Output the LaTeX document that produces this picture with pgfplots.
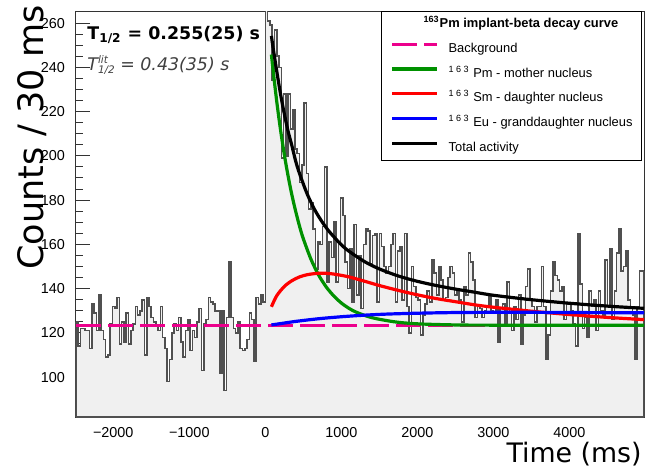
\documentclass[border=0pt]{standalone}
\usepackage{pgfplots}
\pgfplotsset{compat=1.18}
\usepackage{fontspec}
\setmainfont{Liberation Sans}
\newfontfamily\dejavu{DejaVu Sans}
\definecolor{histfill}{RGB}{240,240,240}
\definecolor{histline}{RGB}{80,80,80}
\definecolor{mgreen}{RGB}{0,145,0}

% implant-beta time histogram, 30 ms bins (left edge, counts)
\pgfplotstableread{
x y
-2490 125
-2460 114
-2430 122
-2400 122
-2370 121
-2340 121
-2310 113
-2280 133
-2250 129
-2220 121
-2190 137
-2160 121
-2130 117
-2100 109
-2070 110
-2040 124
-2010 132
-1980 131
-1950 136
-1920 115
-1890 125
-1860 116
-1830 129
-1800 115
-1770 121
-1740 124
-1710 132
-1680 128
-1650 130
-1620 135
-1590 110
-1560 136
-1530 132
-1500 127
-1470 125
-1440 123
-1410 121
-1380 132
-1350 118
-1320 113
-1290 98
-1260 108
-1230 120
-1200 124
-1170 121
-1140 127
-1110 116
-1080 109
-1050 121
-1020 126
-990 112
-960 121
-930 118
-900 125
-870 131
-840 103
-810 124
-780 126
-750 136
-720 134
-690 133
-660 130
-630 130
-600 102
-570 130
-540 94
-510 127
-480 152
-450 127
-420 122
-390 120
-360 125
-330 113
-300 112
-270 113
-240 117
-210 129
-180 126
-150 107
-120 136
-90 133
-60 137
-30 134
0 275
30 261
60 259
90 234
120 257
150 245
180 240
210 199
240 228
270 200
300 228
330 212
360 221
390 203
420 201
450 188
480 196
510 224
540 192
570 176
600 179
630 167
660 149
690 161
720 160
750 168
780 195
810 143
840 161
870 154
900 170
930 143
960 161
990 181
1020 173
1050 152
1080 140
1110 158
1140 134
1170 169
1200 137
1230 155
1260 131
1290 160
1320 167
1350 166
1380 151
1410 164
1440 165
1470 134
1500 165
1530 159
1560 150
1590 147
1620 150
1650 160
1680 165
1710 134
1740 157
1770 159
1800 135
1830 165
1860 132
1890 120
1920 150
1950 141
1980 136
2010 135
2040 119
2070 128
2100 133
2130 139
2160 134
2190 153
2220 147
2250 137
2280 150
2310 144
2340 135
2370 136
2400 145
2430 150
2460 147
2490 137
2520 140
2550 135
2580 125
2610 141
2640 137
2670 156
2700 152
2730 144
2760 127
2790 132
2820 131
2850 127
2880 130
2910 132
2940 137
2970 130
3000 129
3030 135
3060 116
3090 131
3120 133
3150 124
3180 143
3210 129
3240 121
3270 132
3300 126
3330 137
3360 115
3390 128
3420 141
3450 149
3480 135
3510 132
3540 125
3570 132
3600 132
3630 150
3660 132
3690 108
3720 119
3750 139
3780 152
3810 146
3840 144
3870 139
3900 141
3930 126
3960 133
3990 133
4020 130
4050 124
4080 114
4110 165
4140 142
4170 122
4200 127
4230 118
4260 139
4290 132
4320 135
4350 121
4380 139
4410 130
4440 127
4470 153
4500 132
4530 158
4560 126
4590 139
4620 156
4650 167
4680 148
4710 150
4740 157
4770 135
4800 131
4830 128
4860 108
4890 132
4920 148
4950 148
4980 148
}\histdata

\begin{document}
\begin{tikzpicture}
\begin{axis}[
  scale only axis, width=284pt, height=202.5pt,
  xmin=-2490, xmax=4980, ymin=82, ymax=265,
  axis line style={line width=0.5pt, black!80},
  tick align=inside, xtick pos=bottom, ytick pos=left,
  xtick={-2000,-1000,...,4000}, minor x tick num=4,
  xticklabels={−2000,−1000,0,1000,2000,3000,4000},
  ytick={100,120,...,260}, minor y tick num=3,
  yticklabels={100,120,140,160,180,200,220,240,260},
  major tick length=7pt, minor tick length=3.5pt,
  tick style={black!80, line width=0.5pt},
  xticklabel style={font=\fontsize{7.2}{8}\selectfont, inner sep=0.5pt, yshift=-4.6pt},
  yticklabel style={font=\fontsize{7.2}{8}\selectfont, xshift=-2pt},
  xlabel={Time (ms)},
  xlabel style={font=\dejavu\fontsize{13.4}{15}\selectfont, at={(axis description cs:0.9965,-0.06)}, anchor=north east, inner sep=0pt},
  ylabel={Counts / 30 ms},
  ylabel style={font=\dejavu\fontsize{17.5}{19}\selectfont, at={(axis description cs:-0.05,1.017)}, anchor=south east, inner sep=0pt},
  legend style={at={(axis description cs:0.9965,1.0025)}, anchor=north east,
    draw=black, line width=0.5pt, fill=white,
    font=\fontsize{6.45}{7.5}\selectfont,
    inner xsep=4.5pt, inner ysep=3pt, row sep=5.9pt,
    nodes={inner sep=0pt, text height=5pt, text depth=1.5pt},
    /tikz/every odd column/.append style={column sep=5pt}},
  legend cell align=left,
  legend image code/.code={\draw[#1] (0pt,2.3pt) -- (22.5pt,2.3pt);},
]
\addplot[const plot mark left, fill=histfill, draw=histline, line width=0.8pt, forget plot]
  table[x=x, y=y] {\histdata} \closedcycle;

\addlegendimage{empty legend}
\addlegendentry{\hspace*{-12.5pt}\textbf{\textsuperscript{163}Pm implant-beta decay curve}}

\addplot[magenta, line width=1.5pt, dash pattern=on 12.5pt off 3.5pt]
  coordinates {(-2490,123.5) (4980,123.5)};
\addlegendentry{Background}

\addplot[mgreen, line width=1.6pt, smooth] coordinates {
(80,245.8) (100,239.3) (150,224.6) (200,211.7) (250,200.5) (300,190.8)
(350,182.2) (400,174.8) (450,168.2) (500,162.5) (600,153.3) (700,146.2)
(800,140.8) (900,136.7) (1000,133.5) (1100,131.1) (1200,129.3) (1400,126.9)
(1700,125.0) (2000,124.1) (2500,123.6) (3000,123.5) (4980,123.5)};
\addlegendentry{\textsuperscript{1 6 3} Pm - mother nucleus}

\addplot[red, line width=1.6pt, smooth] coordinates {
(80,131.8) (150,136.8) (250,141.0) (350,143.6) (450,145.3) (550,146.3)
(650,146.8) (750,147.0) (850,146.8) (950,146.3) (1100,145.3) (1300,143.4)
(1500,141.4) (1750,139.2) (2000,137.2) (2250,135.5) (2500,134.1) (2750,132.7)
(3000,131.6) (3500,129.8) (4000,128.3) (4500,127.0) (4980,126.0)};
\addlegendentry{\textsuperscript{1 6 3} Sm - daughter nucleus}

\addplot[blue, line width=1.6pt, smooth] coordinates {
(80,123.6) (200,124.2) (400,125.2) (700,126.4) (1000,127.3) (1300,128.0)
(1600,128.5) (2000,128.9) (2500,129.2) (3000,129.3) (3500,129.3) (4000,129.2)
(4980,129.1)};
\addlegendentry{\textsuperscript{1 6 3} Eu - granddaughter nucleus}

\addplot[black, line width=1.6pt, smooth] coordinates {
(80,254.2) (100,249.3) (150,238.3) (200,227.9) (250,218.9) (300,211.0)
(350,204.5) (400,197.5) (450,192.0) (550,182.8) (650,175.6) (750,170.0)
(850,165.4) (1000,159.8) (1100,156.9) (1300,152.3) (1500,148.9) (1750,145.7)
(2000,143.3) (2250,141.4) (2500,139.8) (2750,138.4) (3000,137.0) (3500,135.0)
(4000,133.4) (4500,132.1) (4980,131.1)};
\addlegendentry{Total activity}

\node[anchor=west, inner sep=0pt, font=\dejavu\bfseries\fontsize{8.7}{10}\selectfont]
  at (axis description cs:0.0194,0.944) {T\textsubscript{1/2} = 0.255(25) s};
\node[anchor=west, inner sep=0pt, text=black!75, font=\dejavu\itshape\fontsize{8.7}{10}\selectfont]
  at (axis description cs:0.0194,0.869)
  {T\rlap{\raisebox{3.6pt}{\fontsize{5.2}{6}\selectfont lit}}\raisebox{-1.8pt}{\fontsize{5.2}{6}\selectfont 1/2} = 0.43(35) s};
\end{axis}
\pgfresetboundingbox
\path[use as bounding box] ([shift={(-38pt,-24.5pt)}]current axis.south west)
  rectangle ([shift={(4.5pt,6pt)}]current axis.north east);
\end{tikzpicture}
\end{document}
